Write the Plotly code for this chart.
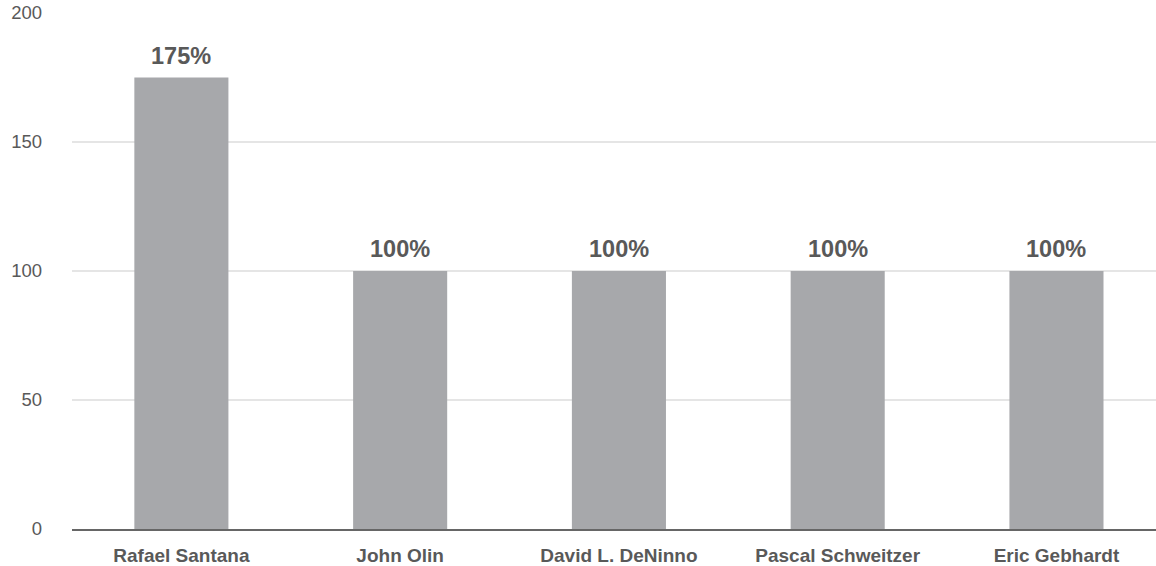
import plotly.graph_objects as go

names = ["Rafael Santana", "John Olin", "David L. DeNinno", "Pascal Schweitzer", "Eric Gebhardt"]
values = [175, 100, 100, 100, 100]
labels = ["175%", "100%", "100%", "100%", "100%"]

fig = go.Figure(go.Bar(
    x=list(range(len(names))), y=values, width=0.43,
    marker=dict(color="#a7a8ab", line=dict(width=0)),
    hoverinfo="skip",
))

for i, (v, t) in enumerate(zip(values, labels)):
    fig.add_annotation(x=i, y=v, text="<b>" + t + "</b>", showarrow=False,
                       yanchor="bottom", yshift=7,
                       font=dict(family="Liberation Sans, Arial", size=23.5, color="#595959"))

fig.update_layout(
    width=1156, height=566,
    margin=dict(l=72, r=0, t=13, b=37),
    paper_bgcolor="white", plot_bgcolor="white",
    showlegend=False,
    font=dict(family="Liberation Sans, Arial", color="#595959"),
    xaxis=dict(
        range=[-0.5, 4.455],
        tickmode="array", tickvals=list(range(len(names))),
        ticktext=["<b>" + n + "</b>" for n in names],
        tickfont=dict(size=19, color="#595959"),
        showgrid=False, zeroline=False,
        showline=True, linecolor="#666666", linewidth=2,
        ticks="", ticklabelstandoff=8,
    ),
    yaxis=dict(
        range=[0, 200], tickvals=[0, 50, 100, 150, 200],
        tickfont=dict(size=18.5, color="#595959"),
        showgrid=True, gridcolor="#e5e5e5", gridwidth=1.5,
        zeroline=False, showline=False, ticks="",
        ticklabelstandoff=29,
    ),
)

fig.write_html("out.html")
